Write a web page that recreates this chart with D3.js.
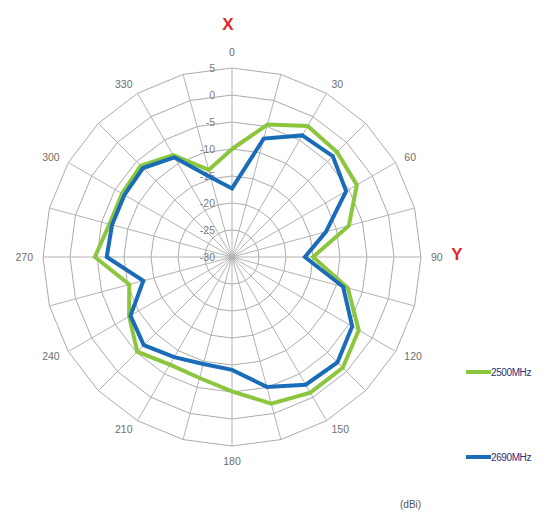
<!DOCTYPE html>
<html>
<head>
<meta charset="utf-8">
<script src="https://cdn.jsdelivr.net/npm/d3@7"></script>
<style>
  html, body { margin: 0; padding: 0; background: #fff; }
  svg { display: block; font-family: "Liberation Sans", Arial, sans-serif; }
</style>
</head>
<body>
<svg id="chart" width="553" height="520"></svg>
<script>
// Measurement angles (degrees, clockwise from X axis)
const angles = d3.range(0, 360, 15);
// Gain in dBi at each angle
const gain2500 = [-10, -4.6, -2.0, -2.5, -3.3, -7.6, -15, -7.8, -2.9, -1.0, -1.0, -1.9,
                  -5.1, -6.8, -7.0, -5.2, -8.0, -10.3, -4.6, -6.5, -6.5, -6.1, -8.2, -13.3];
const gain2690 = [-17.3, -7.3, -4.0, -3.6, -5.6, -12, -16.5, -8.7, -4.3, -2.4, -2.7, -5.1,
                  -9.1, -9.5, -8.6, -6.9, -8.3, -13, -6.8, -7.0, -7.0, -6.7, -8.7, -14.7];
const radialTicks = [5, 0, -5, -10, -15, -20, -25, -30];
const angleLabels = [0, 30, 60, 90, 120, 150, 180, 210, 240, 270, 300, 330];
const seriesNames = ["2500MHz", "2690MHz"];
const seriesColors = ["#8cc63f", "#1a6bb8"];

const svg = d3.select("#chart");
const cx = 232, cy = 257, R = 189;

const r = d3.scaleLinear().domain([-30, 5]).range([0, R]);
const rad = d => d * Math.PI / 180;

const g = svg.append("g").attr("transform", `translate(${cx},${cy})`);

// Polygon grid rings
const ringLine = d3.lineRadial()
  .angle(d => rad(d.a))
  .radius(d => r(d.v))
  .curve(d3.curveLinearClosed);

g.selectAll("path.ring")
  .data(radialTicks.filter(v => v > -30))
  .join("path")
  .attr("class", "ring")
  .attr("d", v => ringLine(angles.map(a => ({ a, v }))))
  .attr("fill", "none")
  .attr("stroke", "#ababab")
  .attr("stroke-width", 1);

// Spokes
g.selectAll("line.spoke")
  .data(angles)
  .join("line")
  .attr("class", "spoke")
  .attr("x1", 0).attr("y1", 0)
  .attr("x2", a => r(5) * Math.sin(rad(a)))
  .attr("y2", a => -r(5) * Math.cos(rad(a)))
  .attr("stroke", "#b3b3b3")
  .attr("stroke-width", 1);

// Radial value labels along the 0° spoke
g.selectAll("text.tick")
  .data(radialTicks)
  .join("text")
  .attr("class", "tick")
  .attr("x", -17)
  .attr("y", v => -r(v))
  .attr("dy", "0.35em")
  .attr("text-anchor", "end")
  .attr("font-size", 10.5)
  .attr("fill", "#7a7a7a")
  .text(v => v);

// Angle labels sit just outside the outer ring, pushed away from it
const labelR = R + 10;
g.selectAll("text.ang")
  .data(angleLabels)
  .join("text")
  .attr("class", "ang")
  .attr("x", a => labelR * Math.sin(rad(a)))
  .attr("y", a => -labelR * Math.cos(rad(a)))
  .attr("dy", a => a === 0 ? "-0.2em" : a === 180 ? "0.85em" : "0.35em")
  .attr("text-anchor", a => (a === 0 || a === 180) ? "middle" : a < 180 ? "start" : "end")
  .attr("font-size", 10.5)
  .attr("fill", "#6e6e6e")
  .text(a => a);

// Series traces
const seriesLine = d3.lineRadial()
  .angle((d, i) => rad(angles[i]))
  .radius(d => r(d))
  .curve(d3.curveLinearClosed);

[gain2500, gain2690].forEach((vals, i) => {
  g.append("path")
    .attr("d", seriesLine(vals))
    .attr("fill", "none")
    .attr("stroke", seriesColors[i])
    .attr("stroke-width", 4)
    .attr("stroke-linejoin", "miter");
});

// Axis markers
svg.append("text")
  .attr("x", 228).attr("y", 30)
  .attr("text-anchor", "middle")
  .attr("font-size", 17).attr("font-weight", "bold")
  .attr("fill", "#e3262b")
  .text("X");
svg.append("text")
  .attr("x", 457).attr("y", 260)
  .attr("text-anchor", "middle")
  .attr("font-size", 17).attr("font-weight", "bold")
  .attr("fill", "#e3262b")
  .text("Y");

// Legend
const legendY = [372, 457];
seriesNames.forEach((name, i) => {
  svg.append("line")
    .attr("x1", 466).attr("x2", 491)
    .attr("y1", legendY[i]).attr("y2", legendY[i])
    .attr("stroke", seriesColors[i])
    .attr("stroke-width", 4);
  svg.append("text")
    .attr("x", 491).attr("y", legendY[i])
    .attr("dy", "0.35em")
    .attr("font-size", 10)
    .attr("letter-spacing", -0.4)
    .attr("fill", "#2b2f7a")
    .text(name);
});

// Unit note
svg.append("text")
  .attr("x", 400).attr("y", 508)
  .attr("font-size", 10)
  .attr("fill", "#555")
  .text("(dBi)");
</script>
</body>
</html>
